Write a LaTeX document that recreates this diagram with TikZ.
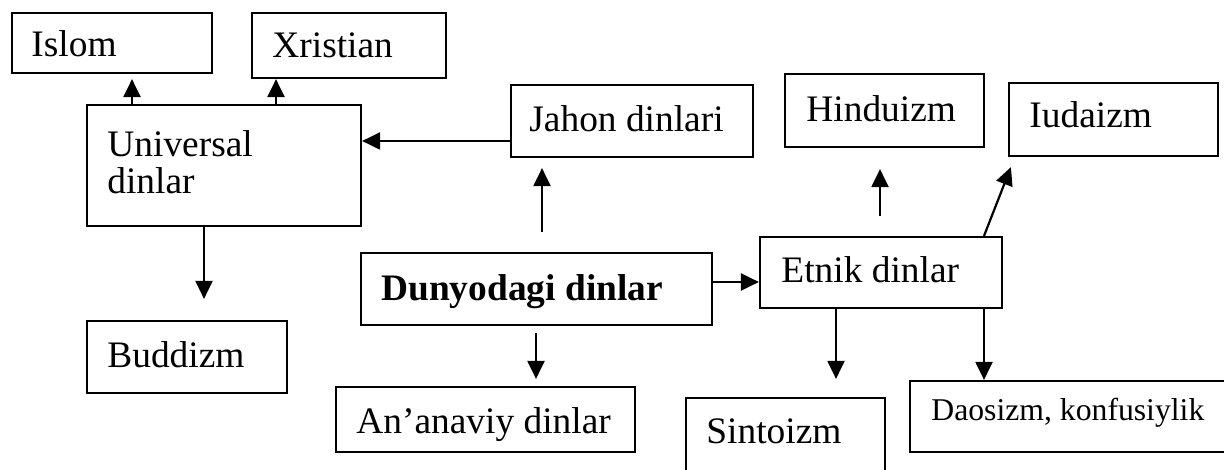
\documentclass[tikz,border=0pt]{standalone}
\usepackage{fontspec}
\setmainfont{Liberation Serif}
\usetikzlibrary{arrows.meta}
\begin{document}
\begin{tikzpicture}[x=0.5pt,y=-0.5pt,
  box/.style={draw, line width=1.1pt, inner sep=0pt},
  txt/.style={anchor=base west, inner sep=0pt, font=\fontsize{18.7}{18.5}\selectfont},
  smalltxt/.style={txt, font=\fontsize{15.85}{19}\selectfont},
  arr/.style={line width=1.1pt, -{Triangle[length=9pt,width=8.5pt]}}]
\useasboundingbox (0,0) rectangle (1224,470);
\clip (0,0) rectangle (1224,470);
% boxes
\node[box, minimum width=100pt, minimum height=30pt] (isl) at (112,43) {};
\node[box, minimum width=97pt, minimum height=32.5pt] (xri) at (349,45.5) {};
\node[box, minimum width=137pt, minimum height=60.5pt] (uni) at (224,165.5) {};
\node[box, minimum width=121pt, minimum height=36pt] (jah) at (632,121) {};
\node[box, minimum width=99.5pt, minimum height=36.5pt] (hin) at (884.5,110.5) {};
\node[box, minimum width=104.5pt, minimum height=36.5pt] (iud) at (1113.5,119.5) {};
\node[box, minimum width=175.5pt, minimum height=36pt] (dun) at (536.5,289) {};
\node[box, minimum width=121pt, minimum height=35.5pt] (etn) at (881,272.5) {};
\node[box, minimum width=100pt, minimum height=36pt] (bud) at (187,357) {};
\node[box, minimum width=149.5pt, minimum height=32.5pt] (ana) at (485.5,419.5) {};
\node[box, minimum width=99.5pt, minimum height=46pt] (sin) at (785.5,444) {};
\node[box, minimum width=165pt, minimum height=35.5pt] (dao) at (1075,416.5) {};
% texts
\node[txt] (tisl) at (31,57) {Islom};
\node[txt] (txri) at (272,58) {Xristian};
\node[txt] (tuni) at (107,157) {Universal};
\node[txt] (tuni2) at (107,194) {dinlar};
\node[txt] (tjah) at (529,132) {Jahon dinlari};
\node[txt] (tdun) at (381,300) {\textbf{Dunyodagi dinlar}};
\node[txt] (thin) at (806,122) {Hinduizm};
\node[txt] (tiud) at (1029,128) {Iudaizm};
\node[txt] (tetn) at (781,282) {Etnik dinlar};
\node[txt] (tbud) at (107,367) {Buddizm};
\node[txt] (tana) at (356,433) {An’anaviy dinlar};
\node[txt] (tsin) at (706,443) {Sintoizm};
\node[smalltxt] (tdao) at (931,420) {Daosizm, konfusiylik};
% arrows
\draw[arr, shorten >=2.5pt] ([shift={(-92,0)}]uni.north) -- ([shift={(20,0)}]isl.south);
\draw[arr] ([shift={(52,0)}]uni.north) -- ([shift={(-73,0)}]xri.south);
\draw[arr] ([shift={(0,20)}]jah.west) -- ([shift={(0,-24.5)}]uni.east);
\draw[arr, shorten <=10pt, shorten >=5pt] ([shift={(5.5,0)}]dun.north) -- ([shift={(-90,0)}]jah.south);
\draw[arr] ([shift={(0,-7)}]dun.east) -- ([shift={(0,9.5)}]etn.west);
\draw[arr, shorten >=10.5pt] ([shift={(-20,0)}]uni.south) -- ([shift={(17,0)}]bud.north);
\draw[arr, shorten <=3.5pt, shorten >=3.5pt] ([shift={(-0.5,0)}]dun.south) -- ([shift={(50.5,0)}]ana.north);
\draw[arr, shorten <=10pt, shorten >=10.5pt] ([shift={(-1,0)}]etn.north) -- ([shift={(-4.5,0)}]hin.south);
\draw[arr] ([shift={(103,0)}]etn.north) -- ([shift={(3,10)}]iud.south west);
\draw[arr, shorten >=9pt] ([shift={(-45,0)}]etn.south) -- ([shift={(50.5,0)}]sin.north);
\draw[arr] ([shift={(103,0)}]etn.south) -- ([shift={(-91,0)}]dao.north);
\end{tikzpicture}
\end{document}
